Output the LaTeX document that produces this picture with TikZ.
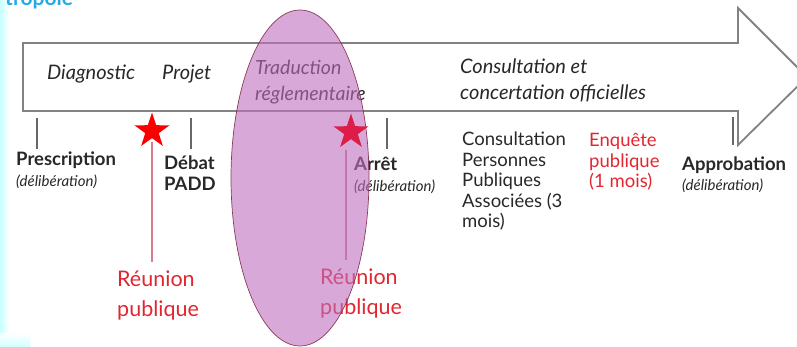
\documentclass[tikz,border=0pt]{standalone}
\usepackage{fontspec}
\setmainfont{Lato}
\usepackage{xcolor}
\usepackage{tikz}
\usetikzlibrary{shapes.geometric,positioning}

\definecolor{txtgray}{RGB}{40,40,40}
\definecolor{rouge}{RGB}{226,38,48}
\definecolor{etoilerouge}{RGB}{250,0,0}
\definecolor{cramoisi}{RGB}{222,28,72}
\definecolor{filet}{RGB}{214,125,135}
\definecolor{mauve}{RGB}{190,110,190}
\definecolor{bordmauve}{RGB}{130,45,75}
\definecolor{fleche}{RGB}{130,130,130}
\definecolor{bleutitre}{RGB}{40,170,230}

\tikzset{
  stage/.style={anchor=base west,inner sep=0pt,text=txtgray,align=left,font=\itshape\fontsize{20}{26}\selectfont},
  jalon/.style={anchor=base west,inner sep=0pt,text=txtgray,font=\bfseries\fontsize{18.5}{21.5}\selectfont},
  delib/.style={anchor=base west,inner sep=0pt,text=txtgray,font=\itshape\fontsize{15}{18}\selectfont},
  liste/.style={anchor=base west,inner sep=0pt,text=txtgray,align=left,font=\fontsize{18.5}{20.5}\selectfont},
  reunion/.style={anchor=base west,inner sep=0pt,text=rouge,align=left,font=\fontsize{21.5}{29.5}\selectfont},
  etoile/.style={star,star points=5,star point ratio=2.6,minimum size=37pt,inner sep=0pt,fill=etoilerouge},
  tick/.style={draw=fleche!80!black,line width=2.4pt},
  starline/.style={draw=filet,line width=1.2pt}
}

\begin{document}
\begin{tikzpicture}[x=1pt,y=-1pt]
\useasboundingbox (0,0) rectangle (797,347);
\clip (0,0) rectangle (797,347);
\shade[left color=cyan!22,right color=white] (0,0) rectangle (9,347);
\shade[top color=white,bottom color=cyan!18] (0,333) rectangle (30,347);
\node[anchor=base west,inner sep=0pt,text=bleutitre,font=\bfseries\fontsize{21}{21}\selectfont] (titre) at (5,6) {tropole};

\draw[fleche,line width=1.8pt,fill=white,line join=miter]
  (23,43) -- (738,43) -- (738,8) -- (807,77) -- (738,145) -- (738,111) -- (23,111) -- cycle;

\node[stage] (diag) at (47,80) {Diagnostic};
\node[stage] (projet) at (162,80) {Projet};
\node[stage,font=\itshape\fontsize{19.5}{26}\selectfont] (trad) at (255,101) {Traduction\\réglementaire};
\node[stage] (consult) at (460,100) {Consultation et\\concertation officielles};

\foreach \x in {37,191,387}
  \draw[tick] (\x,118) -- (\x,149);
\draw[tick] (733,117) -- (733,145);

\node[jalon] (presc) at (16,166) {Prescription};
\node[delib] (presc-d) at (16,187) {(délibération)};
\node[jalon,align=left] (debat) at (164,191) {Débat\\PADD};
\node[jalon] (arret) at (354,171) {Arrêt};
\node[delib] (arret-d) at (354,192) {(délibération)};
\node[liste] (ppa) at (462,228) {Consultation\\Personnes\\Publiques\\Associées (3\\mois)};
\node[liste,text=rouge] (enquete) at (589,188) {Enquête\\publique\\(1 mois)};
\node[jalon] (appro) at (682,171) {Approbation};
\node[delib] (appro-d) at (682,191) {(délibération)};

\node[etoile] (st1) at (152,131) {};
\node[reunion] (reu1) at (117,316) {Réunion\\publique};
\node[reunion] (reu2) at (320,314) {Réunion\\publique};
\draw[starline] ([yshift=-4pt]st1.south) -- ([yshift=9pt]st1.south |- reu1.north);
\coordinate (pied2) at (351,146);
\draw[starline] ([xshift=-5pt,yshift=-4pt]pied2) -- ([xshift=-5pt,yshift=9pt]pied2 |- reu2.north);

\node[ellipse,minimum width=138pt,minimum height=336pt,inner sep=0pt,
  fill=mauve,fill opacity=0.6,draw=bordmauve,draw opacity=0.9,line width=0.7pt] (zone) at (300,178) {};
\node[etoile,fill=cramoisi] (st2) at (351,132) {};
\end{tikzpicture}
\end{document}
